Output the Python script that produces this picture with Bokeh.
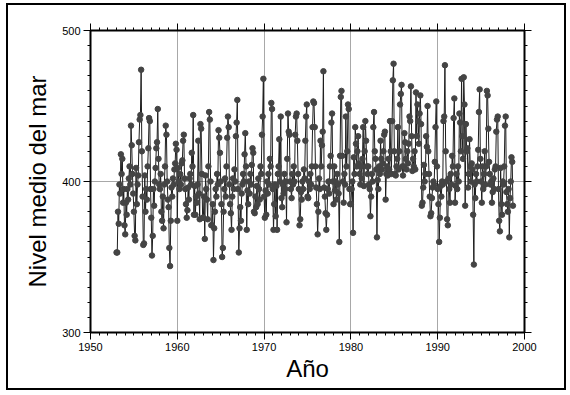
from bokeh.plotting import figure
from bokeh.models import Range1d, FixedTicker, LinearAxis, CustomJSTickFormatter, ColumnDataSource
from bokeh.embed import file_html
from bokeh.resources import INLINE

# Monthly mean sea level, starting January 1953
inicio = 1953
nivel_1953_1959 = [
    353, 353, 380, 372, 398, 392, 418, 405, 415, 386, 395, 371,
    365, 386, 378, 395, 388, 402, 410, 398, 437, 424, 405, 392,
    380, 364, 361, 409, 385, 398, 404, 426, 441, 444, 474, 420,
    390, 358, 359, 404, 380, 395, 388, 410, 422, 442, 440, 395,
    376, 351, 364, 395, 384, 400, 409, 422, 426, 448, 415, 398,
    395, 405, 380, 374, 390, 369, 398, 410, 437, 431, 400, 388,
    383, 356, 344, 374, 396, 390, 402, 398, 408, 412, 425, 421,
]
nivel_1960s = [
    374, 409, 400, 395, 405, 398, 412, 414, 427, 431, 402, 395,
    385, 376, 381, 396, 388, 402, 405, 398, 419, 410, 444, 378,
    397, 378, 390, 386, 398, 427, 392, 375, 438, 435, 405, 376,
    376, 390, 362, 404, 395, 388, 375, 410, 446, 441, 400, 371,
    371, 385, 348, 369, 380, 395, 390, 405, 398, 434, 429, 419,
    400, 385, 350, 356, 380, 395, 402, 390, 410, 429, 443, 436,
    398, 385, 379, 368, 390, 402, 395, 408, 400, 430, 439, 454,
    395, 353, 369, 383, 374, 392, 398, 405, 400, 418, 432, 410,
    368, 394, 385, 400, 392, 405, 398, 411, 422, 419, 380, 379,
    390, 383, 397, 385, 402, 395, 388, 410, 405, 431, 443, 468,
]
nivel_1970s = [
    390, 376, 394, 378, 400, 392, 405, 398, 415, 410, 452, 448,
    395, 368, 385, 398, 377, 397, 368, 405, 410, 428, 400, 443,
    389, 383, 398, 392, 405, 395, 400, 373, 415, 445, 433, 431,
    400, 395, 389, 405, 398, 410, 400, 431, 443, 445, 427, 405,
    395, 371, 375, 393, 388, 400, 395, 408, 402, 427, 443, 451,
    390, 389, 400, 395, 405, 398, 410, 436, 453, 452, 436, 410,
    396, 385, 365, 380, 402, 395, 427, 410, 424, 433, 473, 396,
    390, 379, 368, 378, 395, 400, 392, 410, 417, 439, 445, 400,
    385, 410, 394, 400, 388, 405, 398, 392, 360, 417, 456, 460,
    417, 400, 386, 405, 398, 443, 410, 420, 451, 448, 395, 385,
]
nivel_1980s = [
    385, 395, 400, 366, 416, 405, 436, 425, 410, 420, 430, 412,
    405, 398, 410, 402, 415, 436, 397, 420, 440, 427, 410, 405,
    410, 398, 395, 377, 390, 405, 400, 436, 446, 420, 415, 408,
    363, 401, 395, 410, 405, 427, 415, 408, 412, 420, 431, 433,
    388, 405, 410, 404, 415, 408, 440, 420, 405, 440, 467, 478,
    420, 405, 404, 410, 415, 436, 408, 420, 451, 458, 464, 410,
    404, 410, 432, 426, 415, 408, 420, 412, 425, 443, 440, 463,
    430, 407, 415, 410, 420, 408, 459, 430, 451, 440, 425, 445,
    457, 438, 384, 386, 396, 411, 400, 405, 430, 423, 450, 420,
    405, 390, 377, 379, 389, 396, 400, 398, 413, 436, 453, 410,
]
nivel_1990s = [
    395, 385, 360, 376, 397, 390, 400, 398, 440, 443, 477, 420,
    400, 375, 371, 402, 395, 386, 405, 398, 417, 410, 442, 455,
    386, 397, 405, 395, 410, 400, 445, 439, 420, 468, 430, 415,
    469, 451, 384, 438, 420, 422, 396, 405, 428, 410, 400, 412,
    408, 378, 345, 398, 389, 405, 400, 410, 421, 446, 461, 415,
    400, 386, 410, 395, 405, 420, 398, 410, 460, 457, 435, 413,
    405, 398, 400, 386, 393, 402, 395, 408, 410, 433, 441, 443,
    395, 374, 367, 409, 385, 378, 400, 398, 410, 437, 443, 393,
    385, 380, 395, 363, 389, 400, 416, 413, 384,
]

x_ticks = [1950, 1960, 1970, 1980, 1990, 2000]
y_ticks = [300, 400, 500]
x_label = "Año"
y_label = "Nivel medio del mar"

nivel = nivel_1953_1959 + nivel_1960s + nivel_1970s + nivel_1980s + nivel_1990s
anio = [inicio + i / 12.0 for i in range(len(nivel))]
src = ColumnDataSource(data=dict(anio=anio, nivel=nivel))

FONT = "Liberation Sans"

p = figure(width=560, height=387,
           x_range=Range1d(1950, 2000), y_range=Range1d(300, 500),
           output_backend="svg", toolbar_location=None,
           min_border_left=82, min_border_right=44,
           min_border_top=25, min_border_bottom=60)
p.styles = {"margin-left": "6px", "margin-top": "3px", "border": "2px solid black"}
p.outline_line_color = None
p.background_fill_color = "white"
p.border_fill_color = "white"

xt = FixedTicker(ticks=x_ticks, minor_ticks=list(range(1950, 2001)))
yt = FixedTicker(ticks=y_ticks, minor_ticks=list(range(300, 501, 10)))

bottom = p.below[0]
left = p.left[0]
bottom.ticker = xt
left.ticker = yt
bottom.axis_label = x_label
left.axis_label = y_label

top = LinearAxis(ticker=xt, formatter=CustomJSTickFormatter(code="return ''"))
right = LinearAxis(ticker=yt, formatter=CustomJSTickFormatter(code="return ''"))
p.add_layout(top, "above")
p.add_layout(right, "right")

for ax in [bottom, left, top, right]:
    ax.axis_line_width = 2
    ax.axis_line_color = "black"
    ax.major_tick_out = 7
    ax.major_tick_in = 0
    ax.minor_tick_out = 3
    ax.minor_tick_in = 0
    ax.major_tick_line_width = 1
    ax.minor_tick_line_width = 1
    ax.major_tick_line_color = "black"
    ax.minor_tick_line_color = "black"
    ax.major_label_text_font = FONT
    ax.major_label_text_font_size = "11px"
    ax.major_label_text_color = "black"
    ax.major_label_standoff = 3
    ax.axis_label_text_font = FONT
    ax.axis_label_text_font_size = "24px"
    ax.axis_label_text_font_style = "normal"
    ax.axis_label_text_color = "black"
    ax.axis_label_standoff = 6

bottom.axis_label_standoff = 1
left.axis_label_standoff = 8
top.major_label_standoff = 0
right.major_label_standoff = 0

p.xgrid.ticker = FixedTicker(ticks=[1960, 1970, 1980, 1990])
p.ygrid.ticker = FixedTicker(ticks=[400])
p.xgrid.grid_line_color = "#a8a8a8"
p.ygrid.grid_line_color = "#a8a8a8"
p.xgrid.grid_line_width = 1
p.ygrid.grid_line_width = 1

p.line("anio", "nivel", source=src, line_color="#1e1e1e", line_width=1)
p.scatter("anio", "nivel", source=src, size=5.5, fill_color="#444444", line_color="#444444")

open("out.html", "w").write(file_html(p, INLINE))
